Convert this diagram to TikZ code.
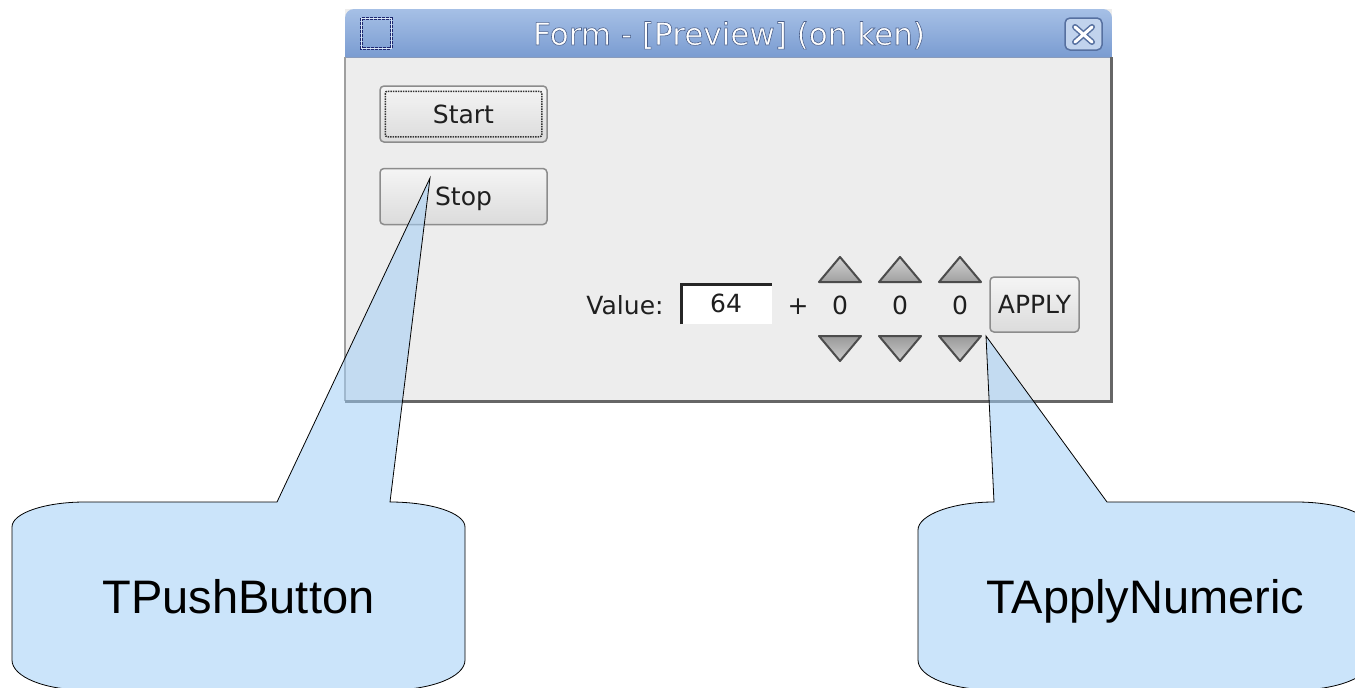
\documentclass[tikz,border=0pt]{standalone}
\usepackage{fontspec}
\setmainfont{DejaVu Sans}
\newfontfamily\calloutfont{Liberation Sans}
\usetikzlibrary{positioning}

\definecolor{winbody}{RGB}{237,237,237}
\definecolor{titletop}{RGB}{166,192,230}
\definecolor{titlebot}{RGB}{122,156,209}
\definecolor{titleedge}{RGB}{86,112,160}
\definecolor{iconedge}{RGB}{28,38,110}
\definecolor{callfill}{RGB}{162,206,246}
\definecolor{btnedge}{RGB}{140,140,140}

% white title letters with a dark rim
\newcommand{\rimtext}[1]{\special{pdf:literal direct 0.3 0.38 0.55 RG 0.6 w 2 Tr}#1\special{pdf:literal direct 0 Tr}}

\begin{document}
\begin{tikzpicture}[x=1pt, y=-1pt,
    widget/.style = {font=\fontsize{25}{25}\selectfont, text=black!88},
    titletext/.style = {font=\fontsize{31}{31}\selectfont, anchor=base},
    button/.style = {widget, shape=rectangle, rounded corners=4pt,
      draw=btnedge, line width=1.5pt,
      top color=gray!8, bottom color=gray!28,
      text height=18pt, text depth=0pt, inner sep=0pt},
    arrowup/.style = {draw=black!70, line width=2pt, line join=round,
      top color=gray!35, bottom color=gray!75},
    arrowdown/.style = {draw=black!70, line width=2pt, line join=round,
      top color=gray!80, bottom color=gray!40},
    callout/.style = {draw=black, line width=0.8pt, fill=callfill,
      fill opacity=0.55},
    bubbletext/.style = {font=\calloutfont\fontsize{47}{47}\selectfont,
      anchor=base}]
  \useasboundingbox (0,0) rectangle (1355,688);
  \fill[white] (0,0) rectangle (1355,688);

  % window frame and title bar
  \fill[winbody] (345,9) rectangle (1112,402);
  \shade[top color=titletop, bottom color=titlebot]
    (345,57) [rounded corners=9pt]-- (345,9) -- (1112,9)
    [sharp corners]-- (1112,57) -- cycle;
  \draw[titleedge!70, line width=1pt] (345,57) -- (1112,57);
  \draw[gray!75, line width=1.5pt] (345,57) -- (345,401);
  \draw[black!60, line width=3pt] (1111,57) -- (1111,401) -- (345,401);

  \draw[iconedge, densely dotted, line width=3pt] (361,18) rectangle (391,48);
  \draw[white!60!titletop, line width=0.8pt] (361,18) rectangle (391,48);
  \draw[titleedge, line width=1.5pt, rounded corners=5pt, fill=titletop!70!white]
    (1065,18) rectangle (1102,50);
  \draw[titleedge, line width=6pt, line cap=round]
    (1075,27) -- (1092,42) (1092,27) -- (1075,42);
  \draw[white, line width=3pt, line cap=round]
    (1075,27) -- (1092,42) (1092,27) -- (1075,42);

  \node[titletext, text=white] (title) at (729,45) {\rimtext{Form - [Preview] (on ken)}};

  % push buttons
  \node[button, minimum width=167pt, minimum height=56pt] (start) at (463.5,114) {Start};
  \node[button, minimum width=167pt, minimum height=56pt, below=25pt of start] (stop) {Stop};
  \draw[black!80, densely dotted, line width=1.5pt, rounded corners=2pt]
    ([shift={(6pt,-6pt)}]start.north west) rectangle ([shift={(-6pt,6pt)}]start.south east);

  % value row
  \node[widget, anchor=base] (vlabel) at (625,314) {Value:};
  \node[widget, fill=white, minimum width=92pt, minimum height=41pt,
    text height=18pt, text depth=0pt, inner sep=0pt] (field) at (726,303.5) {64};
  \draw[black!85, line width=3pt] ([xshift=1.5pt]field.south west)
    -- ([shift={(1.5pt,-1.5pt)}]field.north west) -- ([yshift=-1.5pt]field.north east);
  \node[widget, anchor=base] (plus) at (798,314) {+};
  \foreach \x/\n in {840/one, 900/two, 960/three} {
    \node[widget, anchor=base] (\n) at (\x,314) {0};
    \filldraw[arrowup] (\x-21,282) -- (\x,257) -- (\x+21,282) -- cycle;
    \filldraw[arrowdown] (\x-21,336) -- (\x+21,336) -- (\x,361) -- cycle;
  }
  \node[button, minimum width=89pt, minimum height=55pt] (apply) at (1034.5,304.5) {APPLY};

  % callouts
  \coordinate (pushtip) at (430,178);
  \coordinate (applytip) at (986,336);
  \draw[callout] (277,502) -- (pushtip) -- (390,502)
    .. controls (431,502) and (465,513) .. (465,527) -- (465,660)
    .. controls (465,677) and (431,690) .. (390,690) -- (85,690)
    .. controls (45,690) and (12,677) .. (12,660) -- (12,527)
    .. controls (12,513) and (45,502) .. (85,502) -- cycle;
  \node[bubbletext] (pushname) at (238.5,613) {TPushButton};

  \draw[callout] (994,502) -- (applytip) -- (1107,502) -- (1296,502)
    .. controls (1337,502) and (1371,513) .. (1371,530) -- (1371,660)
    .. controls (1371,677) and (1337,690) .. (1296,690) -- (994,690)
    .. controls (952,690) and (918,677) .. (918,660) -- (918,530)
    .. controls (918,515) and (952,502) .. (994,502) -- cycle;
  \node[bubbletext] (applyname) at (1145.5,613) {TApplyNumeric};
\end{tikzpicture}
\end{document}
